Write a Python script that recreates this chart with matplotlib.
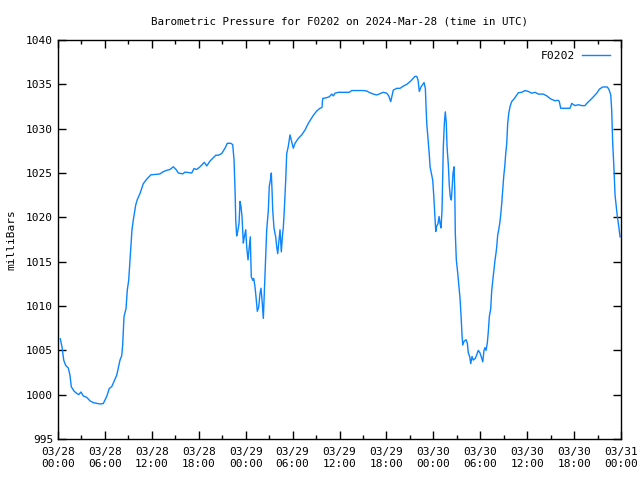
import matplotlib
matplotlib.use("Agg")
import matplotlib.pyplot as plt
from matplotlib.ticker import MultipleLocator

# hours since 2024-03-28 00:00 UTC
hours = [0.29, 0.51, 0.73, 0.98, 1.32, 1.53, 1.70, 2.05, 2.39, 2.65, 2.94, 3.24, 3.67, 4.09, 4.51,
         5.37, 5.79, 6.23, 6.56, 6.87, 7.07, 7.51, 7.93, 8.15, 8.27, 8.44, 8.70, 8.86, 9.04, 9.46,
         9.63, 9.94, 10.14, 10.49, 10.91, 11.34, 11.89, 12.62, 13.04, 13.47, 13.90, 14.32, 14.75,
         15.09, 15.39, 15.95, 16.24, 17.10, 17.39, 17.74, 18.16, 18.71, 19.02, 19.44, 20.17, 20.50,
         20.94, 21.36, 21.65, 22.09, 22.34, 22.51, 22.64, 22.73, 22.85, 22.98, 23.15, 23.28, 23.40,
         23.53, 23.70, 23.83, 24.01, 24.13, 24.30, 24.47, 24.59, 24.72, 24.90, 25.03, 25.19, 25.32,
         25.49, 25.67, 25.83, 25.96, 26.09, 26.26, 26.38, 26.56, 26.69, 26.90, 27.02, 27.20, 27.28,
         27.37, 27.46, 27.62, 27.84, 27.97, 28.10, 28.26, 28.39, 28.56, 28.69, 28.81, 28.94, 29.12,
         29.25, 29.45, 29.67, 29.84, 30.09, 30.31, 30.73, 31.17, 31.59, 32.01, 32.65, 33.09, 33.51,
         33.76, 33.85, 34.36, 34.70, 35.00, 35.21, 35.43, 35.85, 36.49, 37.25, 37.56, 38.20, 38.62,
         39.04, 39.48, 39.90, 40.32, 40.76, 41.18, 41.60, 42.04, 42.29, 42.55, 42.72, 42.88, 43.32,
         43.74, 44.16, 44.60, 45.02, 45.66, 45.87, 46.04, 46.21, 46.42, 46.81, 46.98, 47.07, 47.16,
         47.32, 47.49, 47.58, 47.74, 47.92, 48.05, 48.13, 48.22, 48.31, 48.43, 48.60, 48.73, 48.86,
         48.98, 49.11, 49.20, 49.28, 49.41, 49.53, 49.66, 49.75, 49.92, 50.04, 50.17, 50.30, 50.39,
         50.52, 50.65, 50.74, 50.81, 50.94, 51.12, 51.28, 51.41, 51.54, 51.67, 51.76, 51.92, 52.18,
         52.35, 52.47, 52.65, 52.78, 52.95, 53.11, 53.37, 53.55, 53.75, 53.97, 54.19, 54.32, 54.48,
         54.61, 54.74, 54.90, 55.03, 55.16, 55.34, 55.47, 55.59, 55.76, 55.89, 56.02, 56.11, 56.23,
         56.36, 56.49, 56.62, 56.75, 56.87, 57.00, 57.13, 57.26, 57.39, 57.51, 57.64, 57.81, 58.02,
         58.36, 58.67, 58.87, 59.30, 59.72, 60.15, 60.58, 61.01, 61.43, 62.07, 62.50, 63.01, 63.56,
         63.99, 64.11, 64.29, 65.48, 65.70, 66.12, 66.54, 66.98, 67.40, 67.62, 68.26, 68.90, 69.23,
         69.66, 70.25, 70.47, 70.69, 70.81, 70.94, 71.11, 71.24, 71.37, 71.53, 71.71, 71.88]

pressure = [1006.3, 1005.4, 1003.9, 1003.3, 1003.0, 1002.2, 1000.9, 1000.4, 1000.15, 1000.0, 1000.3,
            999.85, 999.7, 999.3, 999.1, 998.95, 999.0, 999.8, 1000.7, 1000.9, 1001.3, 1002.2, 1003.9,
            1004.4, 1005.6, 1008.8, 1009.7, 1011.8, 1012.9, 1018.6, 1019.7, 1021.4, 1022.0, 1022.7,
            1023.8, 1024.3, 1024.8, 1024.85, 1024.9, 1025.15, 1025.3, 1025.4, 1025.7, 1025.4, 1025.0,
            1024.9, 1025.1, 1025.0, 1025.5, 1025.4, 1025.7, 1026.2, 1025.8, 1026.35, 1027.0, 1027.0,
            1027.2, 1027.8, 1028.35, 1028.35, 1028.2, 1026.5, 1023.1, 1019.7, 1017.9, 1018.4, 1019.3,
            1021.8, 1021.2, 1020.1, 1017.1, 1017.8, 1018.6, 1016.7, 1015.2, 1016.7, 1017.8, 1013.3,
            1012.9, 1013.1, 1012.2, 1011.05, 1009.4, 1009.9, 1011.4, 1012.0, 1010.7, 1008.6, 1011.4,
            1015.4, 1018.6, 1020.8, 1023.5, 1024.4, 1025.0, 1023.1, 1020.8, 1018.8, 1017.8, 1016.7,
            1015.9, 1017.4, 1018.6, 1016.1, 1017.8, 1018.8, 1020.8, 1024.2, 1027.2, 1028.0, 1029.3,
            1028.7, 1027.8, 1028.35, 1028.9, 1029.3, 1029.85, 1030.6, 1031.5, 1032.0, 1032.3, 1032.4,
            1033.4, 1033.5, 1033.6, 1033.9, 1033.7, 1034.0, 1034.1, 1034.1, 1034.1, 1034.3, 1034.3,
            1034.3, 1034.3, 1034.25, 1034.05, 1033.9, 1033.8, 1033.95, 1034.1, 1034.0, 1033.7, 1033.05,
            1033.7, 1034.35, 1034.55, 1034.55, 1034.8, 1035.0, 1035.3, 1035.9, 1035.9, 1035.5, 1034.2,
            1034.7, 1035.2, 1034.55, 1032.4, 1030.6, 1028.9, 1027.0, 1025.7, 1025.0, 1024.2, 1022.5,
            1021.2, 1019.9, 1018.4, 1019.0, 1019.3, 1020.1, 1019.3, 1018.8, 1020.8, 1024.6, 1028.0,
            1030.6, 1031.9, 1030.6, 1028.0, 1025.9, 1023.6, 1022.3, 1021.95, 1023.1, 1025.0, 1025.7,
            1023.1, 1018.2, 1015.2, 1013.7, 1012.2, 1010.9, 1009.0, 1006.7, 1005.6, 1006.0, 1006.2,
            1005.8, 1004.7, 1004.3, 1003.5, 1004.3, 1003.9, 1004.1, 1004.5, 1005.0, 1004.7, 1004.1,
            1003.7, 1005.0, 1005.3, 1005.0, 1005.8, 1007.1, 1008.8, 1009.7, 1011.8, 1012.75, 1014.1,
            1015.2, 1016.0, 1016.7, 1018.0, 1018.6, 1019.3, 1020.3, 1021.6, 1023.1, 1024.6, 1025.7,
            1027.2, 1028.35, 1030.6, 1031.7, 1032.5, 1033.05, 1033.4, 1033.8, 1034.05, 1034.1, 1034.3,
            1034.2, 1034.0, 1034.1, 1033.9, 1033.9, 1033.7, 1033.35, 1033.15, 1033.2, 1033.05, 1032.3,
            1032.3, 1032.85, 1032.6, 1032.7, 1032.6, 1032.6, 1032.85, 1033.4, 1034.0, 1034.45, 1034.7,
            1034.7, 1034.4, 1033.8, 1032.1, 1028.35, 1025.3, 1022.5, 1021.4, 1020.1, 1019.0, 1017.8]

tick_hours = [0, 6, 12, 18, 24, 30, 36, 42, 48, 54, 60, 66, 72]
tick_labels = ["03/28\n00:00", "03/28\n06:00", "03/28\n12:00", "03/28\n18:00",
               "03/29\n00:00", "03/29\n06:00", "03/29\n12:00", "03/29\n18:00",
               "03/30\n00:00", "03/30\n06:00", "03/30\n12:00", "03/30\n18:00",
               "03/31\n00:00"]

plt.rcParams['font.family'] = ['DejaVu Sans Mono']
plt.rcParams['font.size'] = 8

fig = plt.figure(figsize=(6.4, 4.8), dpi=100)
ax = fig.add_axes([58/640, 41/480, 563/640, 399/480])

ax.plot(hours, pressure, color='#0a84ff', lw=1.0, label='F0202')

ax.set_xlim(0, 72)
ax.set_ylim(995, 1040)
ax.set_xticks(tick_hours)
ax.set_xticklabels(tick_labels)
ax.xaxis.set_minor_locator(MultipleLocator(3))
ax.set_yticks(range(995, 1041, 5))

ax.tick_params(which='both', direction='in', top=True, right=True, color='black', labelsize=8)
ax.tick_params(which='major', length=6, width=1)
ax.tick_params(which='minor', length=3, width=1)
ax.tick_params(axis='x', pad=6)
for sp in ax.spines.values():
    sp.set_linewidth(1)
    sp.set_color('black')

ax.set_ylabel('milliBars', fontsize=8, labelpad=7)
ax.set_title('Barometric Pressure for F0202 on 2024-Mar-28 (time in UTC)', fontsize=7.8, pad=11.5)

ax.legend(loc='upper right', frameon=False, markerfirst=False, handlelength=2.4,
          fontsize=8.2, borderaxespad=0.5, handletextpad=0.6, borderpad=0.5)

fig.savefig('out.png', dpi=100)
